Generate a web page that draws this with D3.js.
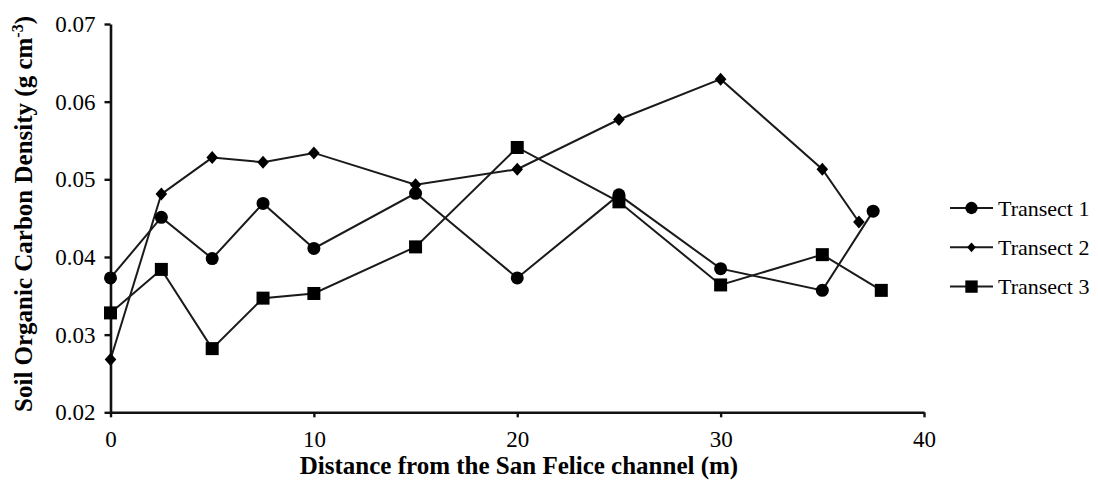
<!DOCTYPE html>
<html>
<head>
<meta charset="utf-8">
<script src="https://cdn.jsdelivr.net/npm/d3@7"></script>
<style>
  html, body { margin: 0; padding: 0; background: #fff; }
  svg { display: block; }
</style>
</head>
<body>
<svg id="chart" width="1098" height="484"></svg>
<script>
// Distance from the channel (m) for each transect
const dist1 = [0, 2.5, 5, 7.5, 10, 15, 20, 25, 30, 35, 37.5];
const dist2 = [0, 2.5, 5, 7.5, 10, 15, 20, 25, 30, 35, 36.8];
const dist3 = [0, 2.5, 5, 7.5, 10, 15, 20, 25, 30, 35, 37.9];

// Soil organic carbon density (g cm-3)
const transect1 = [0.0373, 0.0451, 0.0398, 0.0469, 0.0411, 0.0482, 0.0373, 0.0480, 0.0385, 0.0357, 0.0459];
const transect2 = [0.0268, 0.0481, 0.0528, 0.0522, 0.0534, 0.0493, 0.0513, 0.0577, 0.0629, 0.0513, 0.0445];
const transect3 = [0.0328, 0.0384, 0.0282, 0.0347, 0.0353, 0.0413, 0.0541, 0.0471, 0.0364, 0.0403, 0.0357];

const seriesNames = ["Transect 1", "Transect 2", "Transect 3"];
const markerKinds = ["circle", "diamond", "square"];

const xTicks = [0, 10, 20, 30, 40];
const yTicks = [0.02, 0.03, 0.04, 0.05, 0.06, 0.07];

const SERIF = "'Liberation Serif', 'Times New Roman', Times, serif";

const svg = d3.select("#chart");

const x = d3.scaleLinear().domain([0, 40]).range([110.5, 924]);
const y = d3.scaleLinear().domain([0.02, 0.07]).range([412.3, 24]);

// Axes
const xAxis = d3.axisBottom(x).tickValues(xTicks).tickFormat(d3.format("d"))
  .tickSizeInner(5).tickSizeOuter(0).tickPadding(13);
const yAxis = d3.axisLeft(y).tickValues(yTicks).tickFormat(d3.format(".2f"))
  .tickSizeInner(6).tickSizeOuter(0).tickPadding(9);

const gx = svg.append("g").attr("transform", `translate(0,${y.range()[0]})`).call(xAxis);
const gy = svg.append("g").attr("transform", `translate(${x.range()[0]},0)`).call(yAxis);

[gx, gy].forEach(g => {
  g.attr("font-family", null).attr("font-size", null);
  g.select(".domain").attr("stroke", "#111").attr("stroke-width", 2.6);
  g.selectAll(".tick line").attr("stroke", "#111").attr("stroke-width", 2.4);
  g.selectAll(".tick text")
    .style("font-family", SERIF)
    .style("font-size", "23px").attr("fill", "#000");
});

// Axis titles
svg.append("text")
  .attr("x", 519).attr("y", 474)
  .attr("text-anchor", "middle")
  .style("font-family", SERIF)
  .style("font-weight", "bold").style("font-size", "25px")
  .text("Distance from the San Felice channel (m)");

const yt = svg.append("text")
  .attr("transform", "translate(32,214) rotate(-90)")
  .attr("text-anchor", "middle")
  .style("font-family", SERIF)
  .style("font-weight", "bold").style("font-size", "25px");
yt.append("tspan").text("Soil Organic Carbon Density (g cm");
yt.append("tspan").style("font-size", "16px").attr("dy", -9).text("-3");
yt.append("tspan").attr("dy", 9).text(")");

// Marker shapes
function drawMarker(sel, kind, s) {
  if (kind === "circle") {
    sel.append("circle").attr("r", 6.5 * s).attr("fill", "#000");
  } else if (kind === "square") {
    sel.append("rect").attr("x", -6.5 * s).attr("y", -6.5 * s)
      .attr("width", 13 * s).attr("height", 13 * s).attr("fill", "#000");
  } else {
    const w = 5.8 * s, h = 6.5 * s;
    sel.append("path").attr("d", `M0,${-h}L${w},0L0,${h}L${-w},0Z`).attr("fill", "#000");
  }
}

const series = [
  { name: seriesNames[0], xs: dist1, ys: transect1, kind: markerKinds[0] },
  { name: seriesNames[1], xs: dist2, ys: transect2, kind: markerKinds[1] },
  { name: seriesNames[2], xs: dist3, ys: transect3, kind: markerKinds[2] }
];

const line = d3.line().x(d => x(d[0])).y(d => y(d[1]));

series.forEach(s => {
  const pts = s.xs.map((v, i) => [v, s.ys[i]]);
  svg.append("path").datum(pts)
    .attr("d", line)
    .attr("fill", "none").attr("stroke", "#1a1a1a").attr("stroke-width", 2);
});

series.forEach(s => {
  s.xs.forEach((v, i) => {
    const g = svg.append("g").attr("transform", `translate(${x(v)},${y(s.ys[i])})`);
    drawMarker(g, s.kind, 1);
  });
});

// Legend
const legend = svg.append("g").attr("transform", "translate(950,208)");
series.forEach((s, i) => {
  const row = legend.append("g").attr("transform", `translate(0,${i * 39.3})`);
  row.append("line").attr("x1", 0).attr("x2", 43).attr("y1", 0).attr("y2", 0)
    .attr("stroke", "#1a1a1a").attr("stroke-width", 2);
  const m = row.append("g").attr("transform", "translate(21.5,0)");
  drawMarker(m, s.kind, s.kind === "diamond" ? 0.75 : 0.95);
  row.append("text").attr("x", 48).attr("y", 0).attr("dy", "0.35em")
    .style("font-family", SERIF)
    .style("font-size", "22px").attr("fill", "#000").text(s.name);
});
</script>
</body>
</html>
